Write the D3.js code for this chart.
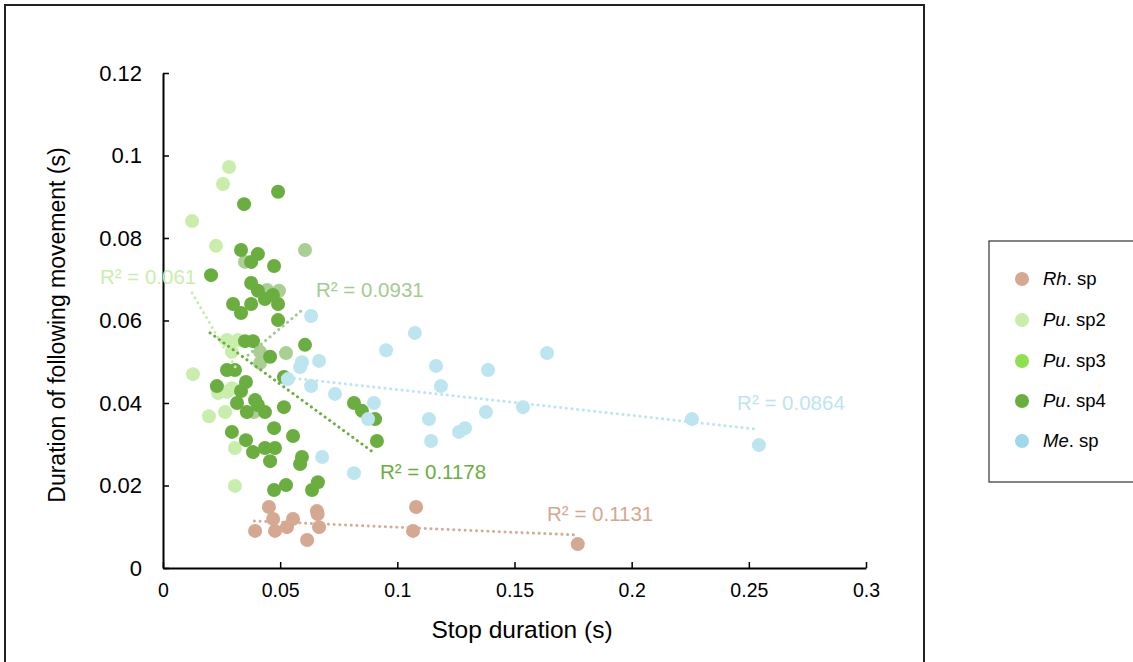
<!DOCTYPE html>
<html><head><meta charset="utf-8">
<script src="https://cdn.jsdelivr.net/npm/d3@7"></script>
<style>
body{margin:0;background:#fff;}
text{font-family:"Liberation Sans",Arial,Helvetica,sans-serif;}
</style></head>
<body><svg id="chart" width="1133" height="662"></svg>
<script>
// ---------- data ----------
const seriesNames = ["Rh. sp", "Pu. sp2", "Pu. sp3", "Pu. sp4", "Me. sp"];
const seriesItalic = ["Rh", "Pu", "Pu", "Pu", "Me"];
const seriesRest = [". sp", ". sp2", ". sp3", ". sp4", ". sp"];

const rhX = [0.0393,0.0452,0.0470,0.0478,0.0529,0.0555,0.0615,0.0657,0.0660,0.0666,0.1080,0.1067,0.1770];
const rhY = [0.0090,0.0148,0.0119,0.0090,0.0099,0.0119,0.0068,0.0138,0.0131,0.0099,0.0148,0.0090,0.0058];

const sp2X = [0.0282,0.0256,0.0124,0.0226,0.0128,0.0273,0.0320,0.0294,0.0235,0.0273,0.0294,0.0196,0.0265,0.0307,0.0307];
const sp2Y = [0.0972,0.0931,0.0841,0.0781,0.0470,0.0553,0.0553,0.0524,0.0424,0.0427,0.0436,0.0368,0.0378,0.0291,0.0199];

const sp3X = [0.0606,0.0350,0.0444,0.0495,0.0414,0.0414,0.0525,0.0388];
const sp3Y = [0.0771,0.0742,0.0674,0.0672,0.0524,0.0497,0.0521,0.0378];

const sp4X = [0.0491,0.0346,0.0333,0.0405,0.0376,0.0474,0.0205,0.0376,0.0405,0.0435,0.0469,0.0491,0.0299,0.0376,0.0333,0.0491,
              0.0350,0.0384,0.0606,0.0457,0.0273,0.0307,0.0516,0.0230,0.0354,0.0333,0.0316,0.0393,0.0405,0.0435,0.0358,0.0516,
              0.0294,0.0474,0.0354,0.0555,0.0435,0.0478,0.0384,0.0457,0.0593,0.0585,0.0474,0.0525,0.0661,0.0636,
              0.0815,0.0849,0.0905,0.0913];
const sp4Y = [0.0912,0.0882,0.0771,0.0761,0.0742,0.0732,0.0710,0.0691,0.0672,0.0652,0.0662,0.0640,0.0640,0.0640,0.0618,0.0601,
              0.0550,0.0550,0.0541,0.0512,0.0480,0.0480,0.0463,0.0441,0.0451,0.0429,0.0400,0.0407,0.0395,0.0378,0.0378,0.0390,
              0.0330,0.0339,0.0310,0.0320,0.0291,0.0291,0.0281,0.0259,0.0269,0.0252,0.0189,0.0201,0.0208,0.0189,
              0.0400,0.0381,0.0361,0.0308];

const meX = [0.0632,0.1075,0.0952,0.1639,0.1165,0.1387,0.0593,0.0585,0.0666,0.1186,0.0533,0.0632,0.0734,0.0900,0.1536,0.1378,
             0.0875,0.1135,0.1289,0.1263,0.2257,0.1144,0.2543,0.0679,0.0815];
const meY = [0.0611,0.0570,0.0528,0.0521,0.0490,0.0480,0.0499,0.0487,0.0502,0.0441,0.0458,0.0441,0.0422,0.0400,0.0390,0.0378,
             0.0361,0.0361,0.0339,0.0330,0.0361,0.0308,0.0298,0.0269,0.0230];

// trendline endpoints [x0, y0, x1, y1]
const trendRh  = [0.0390, 0.0114, 0.1765, 0.0080];
const trendSp2 = [0.0124, 0.0667, 0.0316, 0.0480];
const trendSp3 = [0.0363, 0.0516, 0.0593, 0.0625];
const trendSp4 = [0.0201, 0.0570, 0.0896, 0.0281];
const trendMe  = [0.0512, 0.0463, 0.2526, 0.0337];

const r2Labels = ["R² = 0.1131", "R² = 0.061", "R² = 0.0931", "R² = 0.1178", "R² = 0.0864"];

const xTicks = [0, 0.05, 0.1, 0.15, 0.2, 0.25, 0.3];
const xTickLabels = ["0", "0.05", "0.1", "0.15", "0.2", "0.25", "0.3"];
const yTicks = [0, 0.02, 0.04, 0.06, 0.08, 0.1, 0.12];
const yTickLabels = ["0", "0.02", "0.04", "0.06", "0.08", "0.1", "0.12"];

// ---------- styles / layout ----------
const pointColors = ["#D5A891", "#C9EEAB", "#A9CF93", "#6AAE3F", "#BDE5F0"];
const legendColors = ["#D5A891", "#C9EEAB", "#8FE050", "#6AAE3F", "#9ED8EA"];
const lineColors = ["#D6AB96", "#C6EEA8", "#A3C98C", "#6CAE3C", "#BDE5F0"];
const labelColors = ["#D5A890", "#C9EEAA", "#A6CB8F", "#6AAE3E", "#BDE5F0"];
// label anchors (data coordinates, left edge / vertical middle)
const labelPos = [[0.1639,0.0131],[-0.0269,0.0705],[0.0653,0.0674],[0.0926,0.0233],[0.2450,0.0400]];

const svg = d3.select("#chart");
const x = d3.scaleLinear().domain([0, 0.3]).range([163, 866]);
const y = d3.scaleLinear().domain([0, 0.12]).range([568, 73]);

// outer frame
svg.append("rect").attr("x",5).attr("y",5).attr("width",919).attr("height",680)
   .attr("fill","none").attr("stroke","#222").attr("stroke-width",2);

// axes
const yAxis = d3.axisLeft(y).tickValues(yTicks).tickFormat((d,i)=>yTickLabels[i])
  .tickSizeInner(-6).tickSizeOuter(0).tickPadding(21);
const gy = svg.append("g").attr("transform","translate(163,0)").call(yAxis);
gy.selectAll("text").attr("font-size",22).attr("fill","#000").attr("font-family","Liberation Sans, Arial, sans-serif");
gy.select(".domain").attr("stroke","#000").attr("stroke-width",2);
gy.selectAll(".tick line").attr("stroke","#000").attr("stroke-width",1.5);

const xAxis = d3.axisBottom(x).tickValues(xTicks).tickFormat((d,i)=>xTickLabels[i])
  .tickSizeInner(-6).tickSizeOuter(0).tickPadding(15);
const gx = svg.append("g").attr("transform","translate(0,568)").call(xAxis);
gx.selectAll("text").attr("font-size",19.5).attr("fill","#000").attr("font-family","Liberation Sans, Arial, sans-serif");
gx.select(".domain").attr("stroke","#000").attr("stroke-width",2);
gx.selectAll(".tick line").attr("stroke","#000").attr("stroke-width",1.5);

// axis titles
svg.append("text").attr("x",522).attr("y",638).attr("text-anchor","middle")
   .attr("font-size",24.5).attr("fill","#000").text("Stop duration (s)");
svg.append("text").attr("transform","translate(65,325) rotate(-90)").attr("text-anchor","middle")
   .attr("font-size",23).attr("fill","#000").text("Duration of following movement (s)");

// series
const seriesX = [rhX, sp2X, sp3X, sp4X, meX];
const seriesY = [rhY, sp2Y, sp3Y, sp4Y, meY];
const trends = [trendRh, trendSp2, trendSp3, trendSp4, trendMe];

const plot = svg.append("g");
seriesNames.forEach((name, s) => {
  const pts = seriesX[s].map((v,i)=>({x:v, y:seriesY[s][i]}));
  plot.append("g").selectAll("circle").data(pts).join("circle")
    .attr("cx", d=>x(d.x)).attr("cy", d=>y(d.y)).attr("r", 7)
    .attr("fill", pointColors[s]);
});
// trendlines
trends.forEach((t, s) => {
  plot.append("line")
    .attr("x1", x(t[0])).attr("y1", y(t[1])).attr("x2", x(t[2])).attr("y2", y(t[3]))
    .attr("stroke", lineColors[s]).attr("stroke-width", 3)
    .attr("stroke-linecap","round").attr("stroke-dasharray","0.1 5.6");
});
// R² labels
r2Labels.forEach((lab, s) => {
  svg.append("text").attr("x", x(labelPos[s][0])).attr("y", y(labelPos[s][1]))
    .attr("dy","0.35em").attr("font-size",20.5).attr("fill",labelColors[s]).text(lab);
});

// legend
svg.append("rect").attr("x",989).attr("y",241).attr("width",160).attr("height",241)
   .attr("fill","#fff").attr("stroke","#333").attr("stroke-width",1.2);
const legY = [279, 320, 361, 401, 441];
seriesNames.forEach((name, s) => {
  svg.append("circle").attr("cx",1022).attr("cy",legY[s]).attr("r",7).attr("fill",legendColors[s]);
  const t = svg.append("text").attr("x",1043).attr("y",legY[s]).attr("dy","0.35em")
     .attr("font-size",18.5).attr("fill","#000");
  t.append("tspan").attr("font-style","italic").text(seriesItalic[s]);
  t.append("tspan").text(seriesRest[s]);
});
</script></body></html>
